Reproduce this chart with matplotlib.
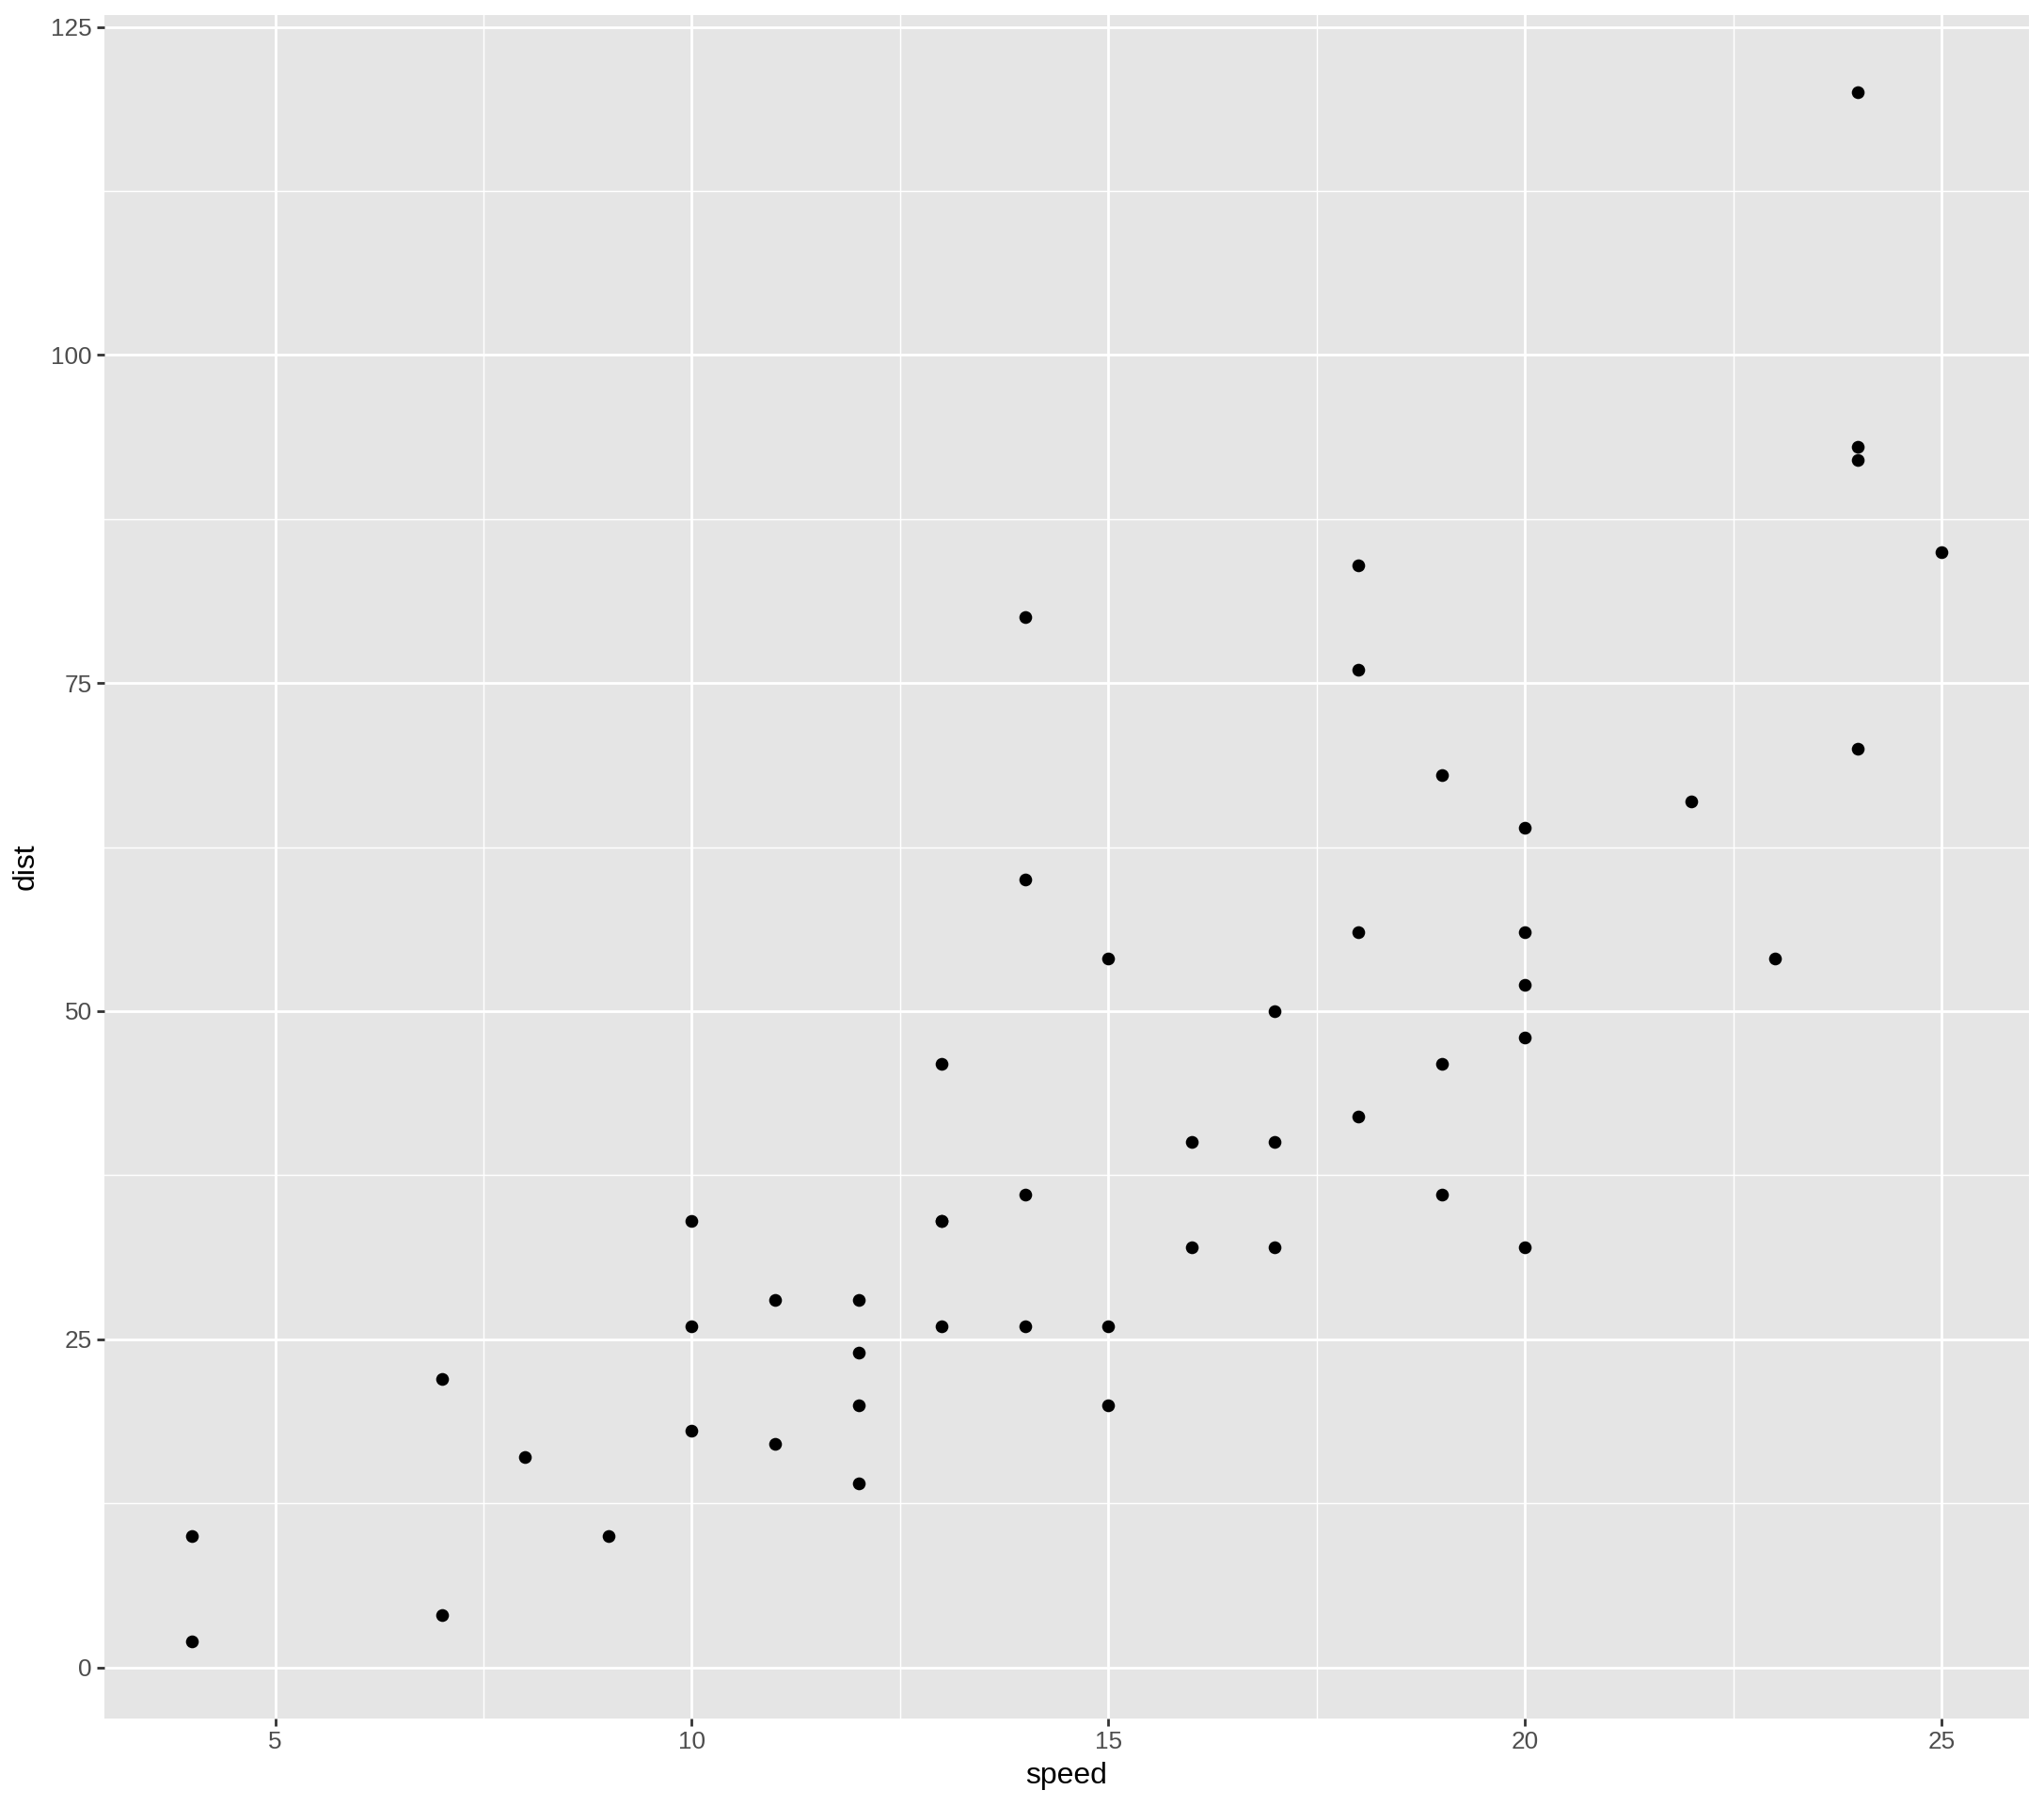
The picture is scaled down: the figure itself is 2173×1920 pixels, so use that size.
import matplotlib
matplotlib.use("Agg")
import matplotlib.pyplot as plt
import numpy as np

plt.rcParams['font.family'] = ['Liberation Sans', 'DejaVu Sans']

speed = [4, 4, 7, 7, 8, 9, 10, 10, 10, 11, 11, 12, 12, 12, 12, 13, 13, 13, 13,
         14, 14, 14, 14, 15, 15, 15, 16, 16, 17, 17, 17, 18, 18, 18, 18, 19, 19,
         19, 20, 20, 20, 20, 20, 22, 23, 24, 24, 24, 24, 25]
dist = [2, 10, 4, 22, 16, 10, 18, 26, 34, 17, 28, 14, 20, 24, 28, 26, 34, 34, 46,
        26, 36, 60, 80, 20, 26, 54, 32, 40, 32, 40, 50, 42, 56, 76, 84, 36, 46,
        68, 32, 48, 52, 56, 64, 66, 54, 70, 92, 93, 120, 85]
x_ticks = [5, 10, 15, 20, 25]
y_ticks = [0, 25, 50, 75, 100, 125]

W, H, DPI = 2173, 1920, 200
fig = plt.figure(figsize=(W / DPI, H / DPI), dpi=DPI)
left, right, top, bottom = 111, 2157, 16, 1827
ax = fig.add_axes([left / W, 1 - bottom / H, (right - left) / W, (bottom - top) / H])

ax.set_facecolor("#E5E5E5")
for s in ax.spines.values():
    s.set_visible(False)

xr = max(speed) - min(speed)
yr = max(dist) - min(dist)
ax.set_xlim(min(speed) - 0.05 * xr, max(speed) + 0.05 * xr)
ax.set_ylim(min(dist) - 0.05 * yr, max(dist) + 0.05 * yr)

ax.set_xticks(x_ticks)
ax.set_yticks(y_ticks)
ax.set_xticks([7.5, 12.5, 17.5, 22.5], minor=True)
ax.set_yticks([12.5, 37.5, 62.5, 87.5, 112.5], minor=True)
ax.grid(which="major", color="white", linewidth=1.0)
ax.grid(which="minor", color="white", linewidth=0.5)
ax.set_axisbelow(True)
ax.tick_params(which="major", length=2.75, width=1.0, color="#333333",
               labelcolor="#4D4D4D", labelsize=9.4, pad=2)
ax.tick_params(which="minor", length=0)

ax.scatter(speed, dist, s=24, color="black", linewidths=0, zorder=3)

ax.set_xlabel("speed", fontsize=11.5, color="black", labelpad=3)
ax.set_ylabel("dist", fontsize=11.5, color="black", labelpad=4)

fig.savefig("out.png", dpi=DPI)
